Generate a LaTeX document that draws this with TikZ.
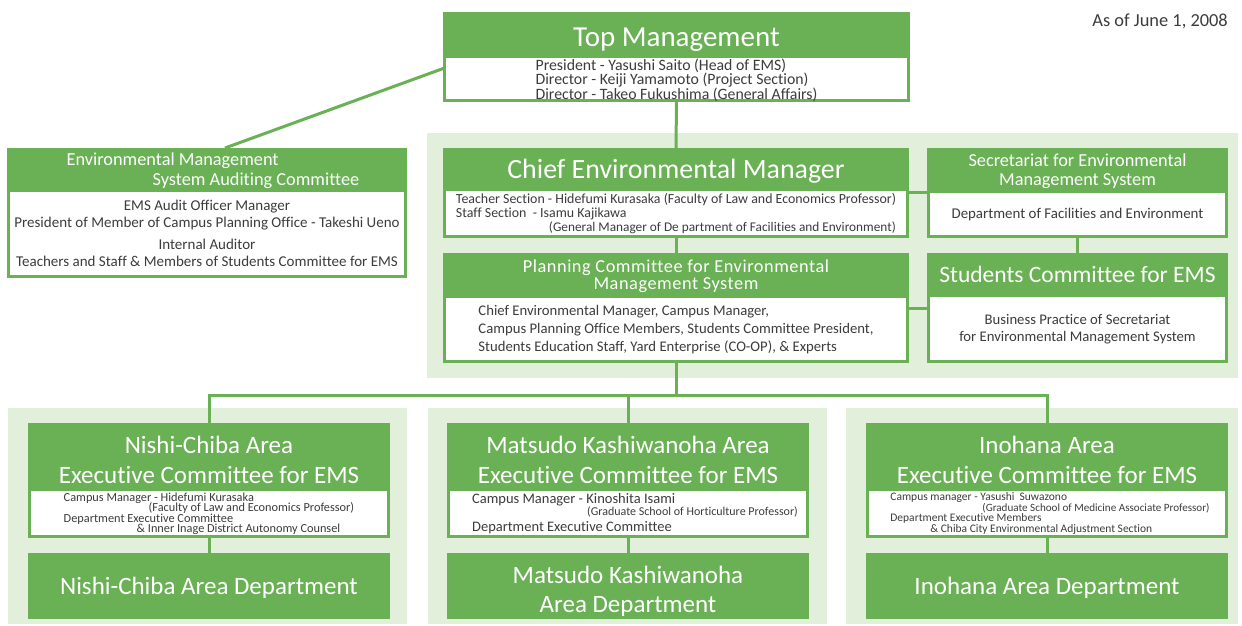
\documentclass[tikz,border=0pt]{standalone}
\usepackage{fontspec}
\setmainfont{Carlito}[Ligatures=NoCommon]
\usetikzlibrary{positioning}
\definecolor{emsgreen}{RGB}{106,176,84}
\definecolor{panelgreen}{RGB}{226,239,218}
\definecolor{inkgray}{RGB}{60,60,60}
\newcommand{\emsfont}[2]{\fontsize{#1}{#2}\selectfont\lineskiplimit=-20pt}
\tikzset{
  head/.style={fill=emsgreen, text=white, inner sep=0pt, outer sep=0pt, align=center, anchor=north west, text depth=0pt},
  body/.style={fill=white, draw=emsgreen, line width=3pt, text=inkgray, inner sep=0pt, outer sep=0pt, align=left, anchor=north, text depth=-3pt},
  link/.style={draw=emsgreen, line width=3pt},
  panel/.style={fill=panelgreen},
}
\begin{document}
\begin{tikzpicture}[x=1pt, y=-1pt]
  \useasboundingbox (0,0) rectangle (1242,626);
  % light green backgrounds
  \fill[panel] (427,133) rectangle (1238,378);
  \fill[panel] (8,408) rectangle (407,624);
  \fill[panel] (428,408) rectangle (827,624);
  \fill[panel] (846,408) rectangle (1238,624);
  \node[anchor=east, inner sep=0pt, text=inkgray, font=\emsfont{18.4}{20}] (date) at (1228,21) {As of June 1, 2008};
%
  \node[head, minimum width=467, minimum height=45, text height=25pt, font=\emsfont{29}{30}] (tophead) at (443,12) {Top Management};
  \node[body, minimum width=464, minimum height=43.5, font=\emsfont{15.8}{14.5}] (topbody) at (tophead.south)
    {President - Yasushi Saito (Head of EMS)\\Director - Keiji Yamamoto (Project Section)\\Director - Takeo Fukushima (General Affairs)};
%
  \node[head, minimum width=400, minimum height=42, font=\emsfont{18.3}{20}, align=left] (audithead) at (7,148)
    {\hspace*{12pt}Environmental Management\\\hspace*{98pt}System Auditing Committee};
  \node[body, align=center, minimum width=397, minimum height=86.5, font=\emsfont{15}{16.5}] (auditbody) at (audithead.south)
    {EMS Audit Officer Manager\\President of Member of Campus Planning Office - Takeshi Ueno\\[6pt]Internal Auditor\\Teachers and Staff \& Members of Students Committee for EMS};
%
  \node[head, minimum width=466, minimum height=41, font=\emsfont{27.9}{30}] (chiefhead) at (443,148) {Chief Environmental Manager};
  \node[body, minimum width=463, minimum height=47.5, font=\emsfont{13.9}{14}] (chiefbody) at (chiefhead.south)
    {Teacher Section - Hidefumi Kurasaka (Faculty of Law and Economics Professor)\\Staff Section\ \ - Isamu Kajikawa\\\hspace*{93pt}{\emsfont{13.3}{14}(General Manager of De partment of Facilities and Environment)}};
%
  \node[head, minimum width=301, minimum height=43, font=\emsfont{18.3}{19.5}] (sechead) at (927,148) {Secretariat for Environmental\\Management System};
  \node[body, align=center, minimum width=298, minimum height=45.5, font=\emsfont{14.9}{16}] (secbody) at (sechead.south) {Department of Facilities and Environment};
%
  \node[head, minimum width=301, minimum height=42, font=\emsfont{23.5}{26}] (stuhead) at (927,253) {Students Committee for EMS};
  \node[body, align=center, minimum width=298, minimum height=66.5, font=\emsfont{14.7}{17}] (stubody) at (stuhead.south)
    {Business Practice of Secretariat\\for Environmental Management System};
%
  \node[head, minimum width=466, minimum height=43, font=\addfontfeature{LetterSpace=3}\emsfont{18.3}{17.5}] (planhead) at (443,253) {Planning Committee for Environmental\\Management System};
  \node[body, minimum width=463, minimum height=65.5, font=\emsfont{14.7}{18}] (planbody) at (planhead.south)
    {Chief Environmental Manager, Campus Manager,\\Campus Planning Office Members, Students Committee President,\\Students Education Staff, Yard Enterprise (CO-OP), \& Experts};
%
  \foreach \i/\x/\area in {1/28/Nishi-Chiba Area, 2/447/Matsudo Kashiwanoha Area, 3/866/Inohana Area}
    \node[head, minimum width=362, minimum height=66, font=\emsfont{25}{30}] (areahead\i) at (\x,423) {\rule{0pt}{25pt}\area\\Executive Committee for EMS};
  \node[body, minimum width=359, minimum height=47.5, font=\emsfont{12.3}{10.5}] (areabody1) at (areahead1.south)
    {Campus Manager - Hidefumi Kurasaka\\\hspace*{85pt}(Faculty of Law and Economics Professor)\\Department Executive Committee\\\hspace*{73pt}\& Inner Inage District Autonomy Counsel};
  \node[body, minimum width=359, minimum height=47.5, font=\emsfont{14.5}{12}] (areabody2) at (areahead2.south)
    {\hspace*{14pt}Campus Manager - Kinoshita Isami\\\hspace*{129pt}{\emsfont{12}{11}(Graduate School of Horticulture Professor)}\\[4pt]\hspace*{14pt}Department Executive Committee};
  \node[body, minimum width=359, minimum height=47.5, font=\emsfont{11.5}{10.5}] (areabody3) at (areahead3.south)
    {\hspace*{6pt}Campus manager - Yasushi\ \ Suwazono\\\hspace*{98pt}{\emsfont{11.1}{10.5}(Graduate School of Medicine Associate Professor)}\\\hspace*{6pt}Department Executive Members\\\hspace*{46pt}\& Chiba City Environmental Adjustment Section};
  \foreach \i/\x/\dept in {1/28/Nishi-Chiba Area Department, 2/447/{\rule{0pt}{23pt}Matsudo Kashiwanoha\\Area Department}, 3/866/Inohana Area Department} {
    \node[head, minimum width=362, minimum height=66, font=\emsfont{25}{29}] (dept\i) at (\x,553) {\dept};
    \draw[link] (areabody\i.south) -- (dept\i.north);
  }
%
  \draw[link] ([yshift=-11pt]topbody.north west) -- ([xshift=18pt]audithead.north);
  \draw[link] (topbody.south) -- (chiefhead.north);
  \draw[link] (chiefbody.south) -- (planhead.north);
  \draw[link] ([yshift=-3pt]chiefbody.north east) coordinate (c1) -- (c1 -| secbody.west);
  \draw[link] (secbody.south) -- (stuhead.north);
  \draw[link] ([yshift=-12pt]planbody.north east) coordinate (c2) -- (c2 -| stubody.west);
  \draw[link] (planbody.south) -- ++(0,33.5) coordinate (bus);
  \draw[link] (areahead1.north) |- (bus) -| (areahead3.north);
  \draw[link] (bus) -| (areahead2.north);
\end{tikzpicture}
\end{document}
